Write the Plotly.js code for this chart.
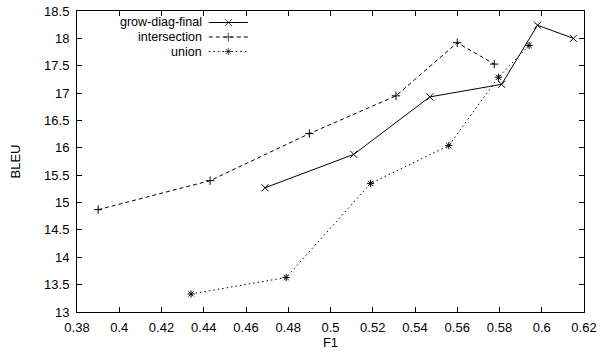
<!DOCTYPE html>
<html>
<head>
<meta charset="utf-8">
<script src="https://cdn.plot.ly/plotly-3.0.1.min.js"></script>
<style>html,body{margin:0;padding:0;background:#fff}#chart{width:600px;height:354px}</style>
</head>
<body>
<div id="chart"></div>
<script>
// Data
const seriesNames = ["grow-diag-final", "intersection", "union"];
const growF1   = [0.469, 0.511, 0.547, 0.581, 0.598, 0.615];
const growBLEU = [15.27, 15.88, 16.93, 17.16, 18.24, 18.00];
const interF1   = [0.390, 0.443, 0.490, 0.531, 0.560, 0.5775];
const interBLEU = [14.87, 15.40, 16.26, 16.95, 17.92, 17.53];
const unionF1   = [0.434, 0.479, 0.519, 0.556, 0.5795, 0.594];
const unionBLEU = [13.33, 13.63, 15.35, 16.04, 17.29, 17.87];
const xTicks = [0.38,0.4,0.42,0.44,0.46,0.48,0.5,0.52,0.54,0.56,0.58,0.6,0.62];
const yTicks = [13,13.5,14,14.5,15,15.5,16,16.5,17,17.5,18,18.5];

const FONT = "Liberation Sans, Arial, sans-serif";
const FS = 13;
const C = "#000";
const styles = [
  {dash: "solid",     symbol: "x-thin-open",     size: 7},
  {dash: "4px,3px",   symbol: "cross-thin-open", size: 6},
  {dash: "1.5px,3px", symbol: "asterisk-open",   size: 6}
];
const xs = [growF1, interF1, unionF1];
const ys = [growBLEU, interBLEU, unionBLEU];

const traces = [];
for (let i = 0; i < 3; i++) {
  traces.push({
    x: xs[i], y: ys[i], type: "scatter", mode: "lines+markers", name: seriesNames[i],
    showlegend: false,
    line: {color: C, width: 1, dash: styles[i].dash},
    marker: {symbol: styles[i].symbol, size: styles[i].size, color: C, line: {color: C, width: 1}}
  });
}
// custom legend (gnuplot style: text right-aligned, sample to its right)
const legRowY = [0.9618, 0.9136, 0.8654];
const annotations = [];
for (let i = 0; i < 3; i++) {
  traces.push({
    x: [0.26, 0.2985, 0.337], y: [legRowY[i], legRowY[i], legRowY[i]],
    xaxis: "x2", yaxis: "y2", type: "scatter", mode: "lines+markers", showlegend: false,
    hoverinfo: "skip",
    line: {color: C, width: 1, dash: styles[i].dash},
    marker: {symbol: styles[i].symbol, size: [0, styles[i].size, 0], color: C, line: {color: C, width: 1}}
  });
  annotations.push({
    xref: "paper", yref: "paper", x: 0.2485, y: legRowY[i], xanchor: "right", yanchor: "middle",
    borderpad: 0,
    text: seriesNames[i], showarrow: false, font: {family: FONT, size: 12.5, color: C}
  });
}

const axisCommon = {
  showgrid: false, zeroline: false, showline: true, linecolor: C, linewidth: 1,
  mirror: "ticks", ticks: "inside", ticklen: 5, tickcolor: C, tickwidth: 1,
  tickfont: {family: FONT, size: FS, color: C}
};

const layout = {
  width: 600, height: 354,
  margin: {l: 77, r: 16, t: 11, b: 42},
  paper_bgcolor: "#fff", plot_bgcolor: "#fff",
  font: {family: FONT, size: FS, color: C},
  xaxis: Object.assign({}, axisCommon, {
    range: [0.38, 0.62], tickvals: xTicks, ticktext: xTicks.map(v => String(v)),
    ticklabelstandoff: 3,
    title: {text: "F1", font: {family: FONT, size: FS, color: C}, standoff: 3}
  }),
  yaxis: Object.assign({}, axisCommon, {
    range: [13, 18.5], tickvals: yTicks, ticktext: yTicks.map(v => String(v)),
    ticklabelstandoff: 4,
    title: {text: "BLEU", font: {family: FONT, size: FS, color: C}, standoff: 20}
  }),
  xaxis2: {overlaying: "x", range: [0, 1], visible: false, fixedrange: true},
  yaxis2: {overlaying: "y", range: [0, 1], visible: false, fixedrange: true},
  annotations: annotations,
  showlegend: false
};

Plotly.newPlot("chart", traces, layout, {staticPlot: true});
</script>
</body>
</html>
